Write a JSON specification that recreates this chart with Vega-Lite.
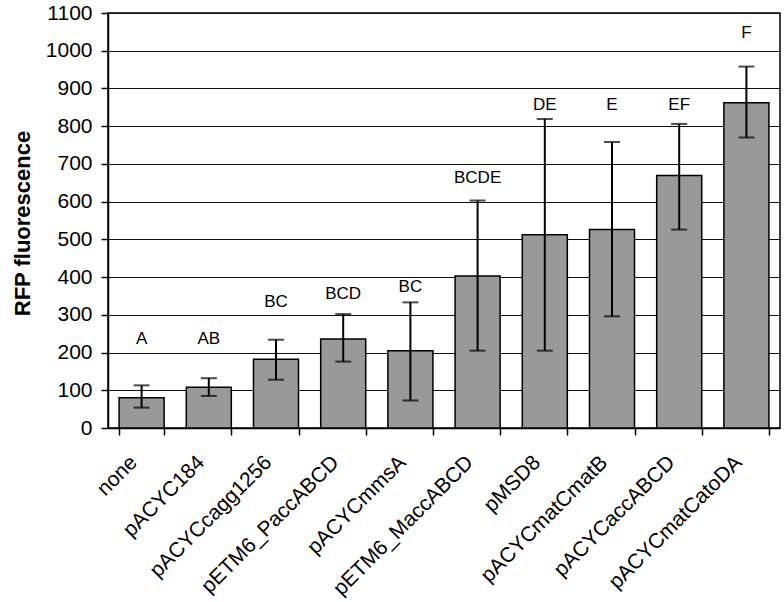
{
  "$schema": "https://vega.github.io/schema/vega-lite/v6.json",
  "autosize": {"type": "none"},
  "padding": {"left": 108, "top": 13, "right": 4, "bottom": 174},
  "width": 672,
  "height": 415,
  "background": "white",
  "config": {
    "font": "Liberation Sans",
    "view": {"stroke": "black", "strokeWidth": 1.5},
    "axisY": {
      "titleFontSize": 22,
      "titleFontWeight": "bold",
      "titleColor": "black",
      "titleX": -86,
      "titleY": 210,
      "titleBaseline": "middle",
      "titleAlign": "center",
      "titleAngle": -90,
      "tickCount": 11,
      "format": "d",
      "labelOverlap": false,
      "labelFontSize": 21,
      "labelColor": "black",
      "labelPadding": 9,
      "tickSize": 7,
      "tickColor": "black",
      "tickWidth": 1.5,
      "domainColor": "black",
      "domainWidth": 1.5,
      "grid": true,
      "gridColor": "#111111",
      "gridWidth": 1
    }
  },
  "data": {
    "values": [
      {"strain": "none", "mean": 80, "lo": 54, "hi": 113, "group": "A", "group_y": 237},
      {"strain": "pACYC184", "mean": 108, "lo": 85, "hi": 132, "group": "AB", "group_y": 237},
      {"strain": "pACYCcagg1256", "mean": 182, "lo": 128, "hi": 234, "group": "BC", "group_y": 334},
      {"strain": "pETM6_PaccABCD", "mean": 236, "lo": 176, "hi": 302, "group": "BCD", "group_y": 354},
      {"strain": "pACYCmmsA", "mean": 205, "lo": 73, "hi": 333, "group": "BC", "group_y": 373},
      {"strain": "pETM6_MaccABCD", "mean": 403, "lo": 205, "hi": 603, "group": "BCDE", "group_y": 663},
      {"strain": "pMSD8", "mean": 512, "lo": 205, "hi": 819, "group": "DE", "group_y": 857},
      {"strain": "pACYCmatCmatB", "mean": 526, "lo": 296, "hi": 758, "group": "E", "group_y": 857},
      {"strain": "pACYCaccABCD", "mean": 669, "lo": 526, "hi": 806, "group": "EF", "group_y": 857},
      {"strain": "pACYCmatCatoDA", "mean": 862, "lo": 770, "hi": 958, "group": "F", "group_y": 1048}
    ]
  },
  "encoding": {
    "x": {
      "field": "strain",
      "type": "nominal",
      "sort": null,
      "scale": {"paddingInner": 0.33, "paddingOuter": 0.165},
      "axis": {
        "title": null,
        "labelAngle": -45,
        "labelAlign": "right",
        "labelBaseline": "middle",
        "labelFontSize": 21,
        "labelColor": "black",
        "labelPadding": 24,
        "labelOffset": -8,
        "labelOverlap": false,
        "labelLimit": 400,
        "tickBand": "extent",
        "tickSize": 7,
        "tickColor": "black",
        "tickWidth": 1.5,
        "domainColor": "black",
        "domainWidth": 1.5,
        "grid": false
      }
    }
  },
  "layer": [
    {
      "mark": {"type": "bar", "fill": "#999999", "stroke": "black", "strokeWidth": 1.5},
      "encoding": {
        "y": {
          "field": "mean",
          "type": "quantitative",
          "title": "RFP fluorescence",
          "scale": {"domain": [0, 1100], "nice": false}
        }
      }
    },
    {
      "mark": {"type": "rule", "color": "black", "strokeWidth": 2},
      "encoding": {
        "y": {"field": "lo", "type": "quantitative", "title": "RFP fluorescence"},
        "y2": {"field": "hi"}
      }
    },
    {
      "mark": {"type": "tick", "orient": "horizontal", "size": 16, "thickness": 2, "color": "black"},
      "encoding": {
        "y": {"field": "lo", "type": "quantitative", "title": "RFP fluorescence"}
      }
    },
    {
      "mark": {"type": "tick", "orient": "horizontal", "size": 16, "thickness": 2, "color": "black"},
      "encoding": {
        "y": {"field": "hi", "type": "quantitative", "title": "RFP fluorescence"}
      }
    },
    {
      "mark": {"type": "text", "fontSize": 17, "color": "black", "baseline": "middle", "align": "center"},
      "encoding": {
        "y": {"field": "group_y", "type": "quantitative", "title": "RFP fluorescence"},
        "text": {"field": "group"}
      }
    }
  ]
}
